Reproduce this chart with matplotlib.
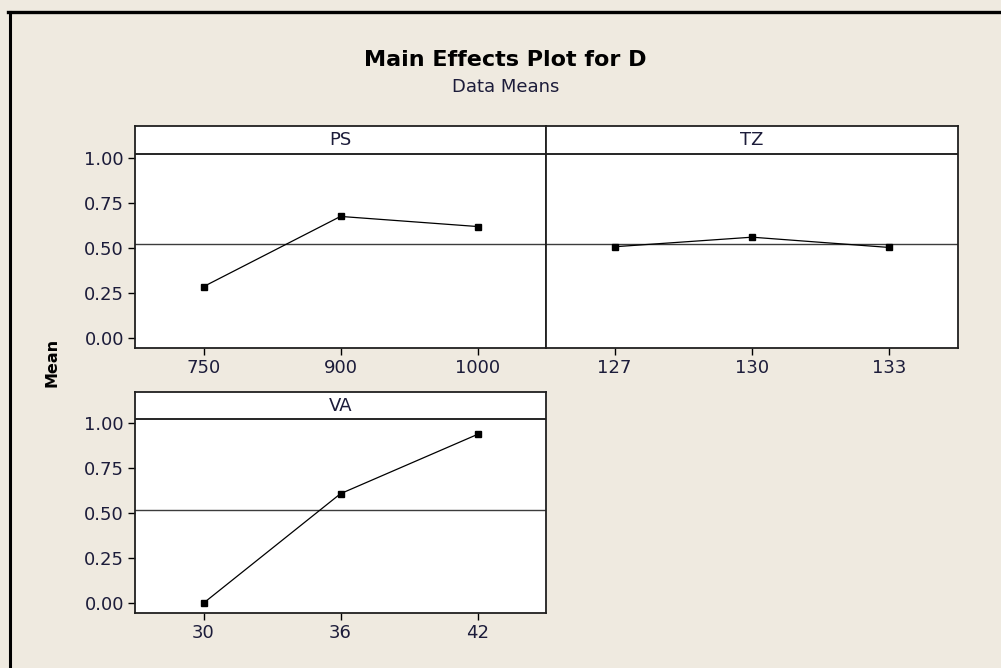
import numpy as np
import matplotlib
matplotlib.use('Agg')
import matplotlib.pyplot as plt
from matplotlib.lines import Line2D

# data means
ps_levels = ['750', '900', '1000']
ps_means = [0.285, 0.674, 0.618]
tz_levels = ['127', '130', '133']
tz_means = [0.506, 0.559, 0.502]
va_levels = ['30', '36', '42']
va_means = [0.0, 0.609, 0.939]
grand_mean = 0.52

y_ticks = [0.0, 0.25, 0.5, 0.75, 1.0]
y_tick_labels = ['0.00', '0.25', '0.50', '0.75', '1.00']

bg = '#efeae0'
txt = '#1c1c3a'

fig = plt.figure(figsize=(10.01, 6.68), dpi=100, facecolor=bg)

W, H = 1001.0, 668.0
def box(l, t, r, b):
	return [l / W, 1 - b / H, (r - l) / W, (b - t) / H]

ax_ps = fig.add_axes(box(135, 126, 546, 348))
ax_tz = fig.add_axes(box(546, 126, 958, 348))
ax_va = fig.add_axes(box(135, 392, 546, 613))

panels = [
	(ax_ps, 'PS', ps_levels, ps_means, True),
	(ax_tz, 'TZ', tz_levels, tz_means, False),
	(ax_va, 'VA', va_levels, va_means, True),
]

for ax, name, levels, means, show_y in panels:
	x = np.arange(len(levels))
	ax.set_facecolor('white')
	ax.axhline(grand_mean, color='#3c3c3c', lw=1.0, zorder=1)
	ax.axhline(1.022, color='black', lw=1.2, zorder=1)
	ax.plot(x, means, color='black', lw=0.9, marker='s', ms=5, zorder=3)
	ax.set_xlim(-0.5, 2.5)
	ax.set_ylim(-0.055, 1.175)
	ax.set_xticks(x)
	ax.set_xticklabels(levels, fontsize=13, color=txt)
	if show_y:
		ax.set_yticks(y_ticks)
		ax.set_yticklabels(y_tick_labels, fontsize=13, color=txt)
	else:
		ax.set_yticks([])
	ax.tick_params(direction='out', length=5, width=1.0, color='black', pad=3)
	for s in ax.spines.values():
		s.set_linewidth(1.3)
		s.set_color('#202020')
	ax.text(0.5, 0.937, name, transform=ax.transAxes, ha='center', va='center',
			fontsize=13, color=txt)

fig.text(505 / W, 1 - 60 / H, 'Main Effects Plot for D', ha='center', va='center',
		 fontsize=16, fontweight='bold', color='black')
fig.text(506 / W, 1 - 87 / H, 'Data Means', ha='center', va='center',
		 fontsize=13, color=txt)
fig.text(52 / W, 1 - 362 / H, 'Mean', ha='center', va='center', rotation=90,
		 fontsize=11.5, fontweight='bold', color='black')

# window frame on top and left
fig.add_artist(Line2D([9.5 / W, 9.5 / W], [0, 1 - 11.5 / H], transform=fig.transFigure,
					  color='black', lw=2.2))
fig.add_artist(Line2D([8 / W, 1], [1 - 11.5 / H, 1 - 11.5 / H], transform=fig.transFigure,
					  color='black', lw=2.4))

plt.savefig('out.png', dpi=100, facecolor=bg)
